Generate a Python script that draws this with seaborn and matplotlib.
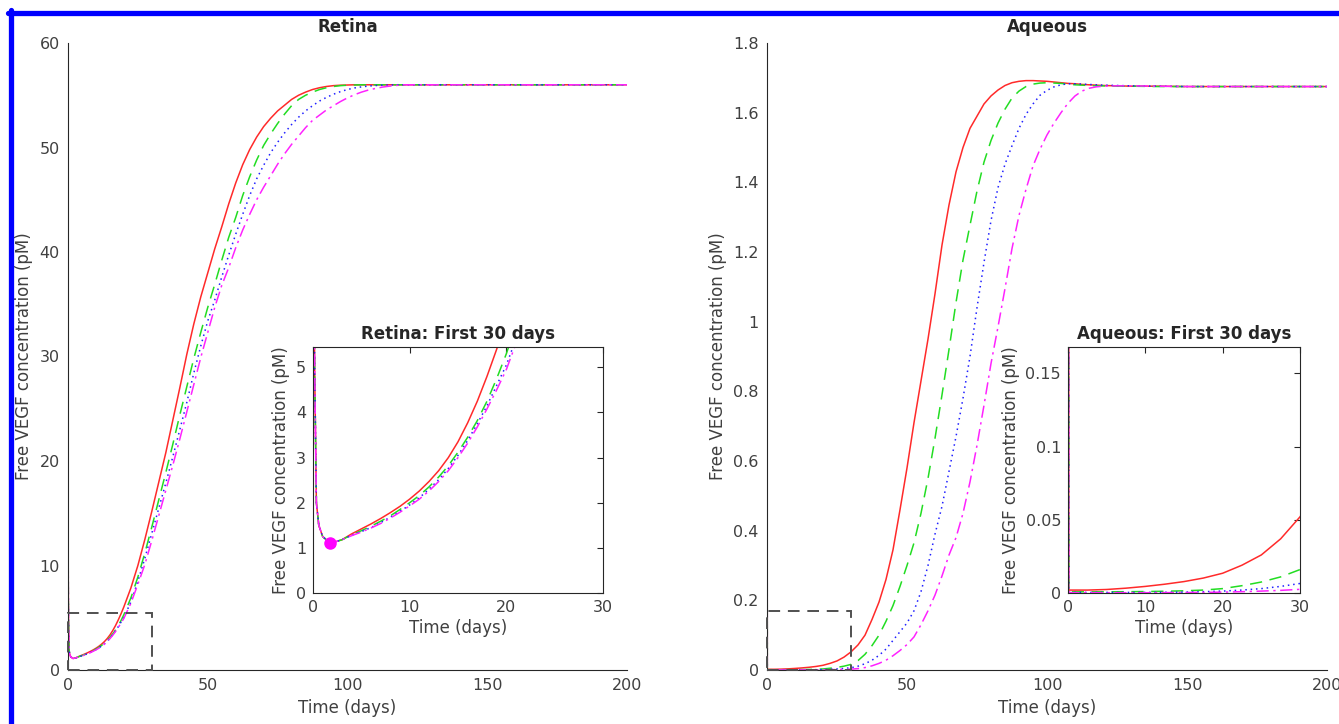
import numpy as np
import matplotlib
matplotlib.use("Agg")
import matplotlib.pyplot as plt
import seaborn as sns
from matplotlib.ticker import FuncFormatter
from matplotlib.patches import Rectangle
from matplotlib.lines import Line2D

# ---------------- data ----------------
# Retina: shared initial spike (all four curves overlap there)
spike_t = [0, 0.05, 0.1, 0.17, 0.35, 0.6, 1.0, 1.8, 3]
spike_v = [56, 14, 8, 5.0, 2.0, 1.5, 1.25, 1.1, 1.18]

ret_t = [4, 5, 6, 7, 8, 9, 10, 11, 12, 13, 14, 15, 16, 17, 18, 19, 20,
         22.5, 25, 27.5, 30, 32.5, 35, 37.5, 40, 42.5,
         45, 47.5, 50, 52.5, 55, 57.5, 60, 62.5, 65, 67.5,
         70, 72.5, 75, 77.5, 80, 82.5, 85, 87.5, 90, 92.5,
         95, 97.5, 100, 102.5, 105, 107.5, 110, 112.5, 115, 117.5, 120,
         130, 150, 200]
ret_red = [1.31, 1.42, 1.53, 1.65, 1.78, 1.92, 2.08, 2.26, 2.47, 2.71, 3.0, 3.35,
           3.77, 4.25, 4.8, 5.4, 6.05,
           7.85, 10.0, 12.5, 15.2, 18.0, 20.8, 23.9, 27.0, 30.2,
           33.1, 35.7, 38.0, 40.3, 42.4, 44.6, 46.6, 48.35, 49.8, 51.0,
           52.0, 52.8, 53.5, 54.05, 54.6, 55.0, 55.3, 55.55, 55.72, 55.84,
           55.92, 55.96, 55.98, 56.0, 56.0, 56.0, 56.0, 56.0, 56.0, 56.0, 56.0,
           56.0, 56.0, 56.0]
ret_green = [1.29, 1.38, 1.48, 1.59, 1.71, 1.85, 2.0, 2.16, 2.35, 2.57, 2.82, 3.12,
             3.45, 3.82, 4.25, 4.75, 5.3,
             6.9, 8.9, 11.2, 13.7, 16.3, 18.9, 21.6, 24.4, 27.1,
             29.8, 32.3, 34.7, 36.9, 39.2, 41.4, 43.3, 45.4, 47.2, 48.8,
             50.2, 51.3, 52.3, 53.2, 54.0, 54.6, 55.0, 55.3, 55.55, 55.72,
             55.84, 55.92, 55.96, 55.98, 56.0, 56.0, 56.0, 56.0, 56.0, 56.0, 56.0,
             56.0, 56.0, 56.0]
ret_blue = [1.28, 1.36, 1.45, 1.56, 1.68, 1.81, 1.95, 2.11, 2.3, 2.51, 2.76, 3.05,
            3.38, 3.75, 4.15, 4.6, 5.05,
            6.5, 8.5, 10.7, 13.1, 15.5, 17.9, 20.4, 23.0, 25.6,
            28.4, 31.0, 33.4, 35.4, 37.6, 39.7, 41.7, 43.6, 45.4, 47.0,
            48.3, 49.5, 50.5, 51.4, 52.2, 52.9, 53.5, 54.0, 54.45, 54.8,
            55.1, 55.35, 55.55, 55.7, 55.8, 55.88, 55.93, 55.96, 55.98, 56.0, 56.0,
            56.0, 56.0, 56.0]
ret_magenta = [1.27, 1.35, 1.44, 1.54, 1.66, 1.79, 1.93, 2.08, 2.26, 2.47, 2.71, 3.0,
               3.32, 3.68, 4.08, 4.5, 4.95,
               6.4, 8.2, 10.1, 12.4, 14.8, 17.2, 19.6, 22.1, 24.7,
               27.3, 29.9, 32.3, 34.7, 36.8, 38.5, 40.4, 42.1, 43.6, 45.0,
               46.2, 47.3, 48.4, 49.4, 50.3, 51.1, 51.9, 52.6, 53.1, 53.6,
               54.0, 54.4, 54.75, 55.05, 55.3, 55.5, 55.65, 55.78, 55.87, 55.94, 56.0,
               56.0, 56.0, 56.0]

# Aqueous
aq_t = [0, 0.1, 2.5, 5, 7.5, 10, 12.5, 15, 17.5, 20, 22.5,
        25, 27.5, 30, 32.5, 35, 37.5, 40, 42.5, 45, 47.5,
        50, 52.5, 55, 57.5, 60, 62.5, 65, 67.5, 70,
        72.5, 75, 77.5, 80, 82.5, 85, 87.5, 90, 92.5,
        95, 97.5, 100, 102.5, 105, 107.5, 110, 112.5, 115,
        117.5, 120,
        125, 130, 140, 150, 175, 200]
aq_red = [1.675, 0.002, 0.002, 0.0024, 0.0033, 0.0045, 0.006, 0.0078, 0.0102, 0.0135, 0.019,
          0.026, 0.037, 0.052, 0.072, 0.1, 0.145, 0.195, 0.26, 0.345, 0.46,
          0.58, 0.71, 0.83, 0.95, 1.08, 1.22, 1.335, 1.43, 1.5,
          1.555, 1.59, 1.625, 1.648, 1.665, 1.678, 1.686, 1.69, 1.692,
          1.692, 1.691, 1.69, 1.688, 1.686, 1.684, 1.683, 1.681, 1.68,
          1.679, 1.678,
          1.677, 1.676, 1.676, 1.675, 1.675, 1.675]
aq_green = [1.675, 0.0008, 0.0008, 0.0008, 0.0009, 0.001, 0.0012, 0.0015, 0.002, 0.003, 0.005,
            0.0075, 0.011, 0.016, 0.027, 0.045, 0.07, 0.1, 0.14, 0.185, 0.24,
            0.3, 0.365, 0.45, 0.55, 0.665, 0.79, 0.92, 1.055, 1.177,
            1.277, 1.375, 1.458, 1.52, 1.57, 1.61, 1.642, 1.662, 1.675,
            1.682, 1.685, 1.686, 1.685, 1.684, 1.682, 1.68, 1.679, 1.678,
            1.677, 1.677,
            1.676, 1.676, 1.675, 1.675, 1.675, 1.675]
aq_blue = [1.675, 0.0004, 0.0004, 0.0004, 0.0004, 0.0004, 0.0005, 0.0006, 0.0009, 0.0013, 0.002,
           0.003, 0.0045, 0.0065, 0.011, 0.018, 0.028, 0.042, 0.06, 0.085, 0.11,
           0.135, 0.17, 0.225, 0.3, 0.39, 0.47, 0.57, 0.67, 0.78,
           0.9, 1.04, 1.17, 1.29, 1.385, 1.452, 1.505, 1.555, 1.595,
           1.625, 1.65, 1.664, 1.674, 1.68, 1.683, 1.683, 1.682, 1.681,
           1.68, 1.679,
           1.678, 1.677, 1.676, 1.675, 1.675, 1.675]
aq_magenta = [1.675, 0.0002, 0.0002, 0.0002, 0.0002, 0.0002, 0.00025, 0.0003, 0.0004, 0.0006, 0.0009,
              0.0013, 0.0018, 0.0025, 0.004, 0.007, 0.012, 0.019, 0.028, 0.041, 0.056,
              0.073, 0.095, 0.13, 0.17, 0.215, 0.27, 0.33, 0.38, 0.45,
              0.54, 0.645, 0.76, 0.88, 0.985, 1.095, 1.21, 1.305, 1.38,
              1.447, 1.495, 1.536, 1.57, 1.6, 1.627, 1.648, 1.662, 1.67,
              1.674, 1.676,
              1.677, 1.677, 1.676, 1.675, 1.675, 1.675]

min_point_t = [1.8]
min_point_v = [1.1]

zoom_days = 30
retina_zoom_top = 5.45
aqueous_zoom_top = 0.168

series_styles = [("red", "#ff2a2a", "-"),
                 ("green", "#22dd22", (0, (8, 5))),
                 ("blue", "#2020ff", (0, (1, 2.5))),
                 ("magenta", "#ff22ff", (0, (8, 3, 1.5, 3)))]

ret_series = {"red": ret_red, "green": ret_green, "blue": ret_blue, "magenta": ret_magenta}
aq_series = {"red": aq_red, "green": aq_green, "blue": aq_blue, "magenta": aq_magenta}

# ---------------- styling ----------------
sns.set_style("white")
plt.rcParams["font.family"] = ["DejaVu Sans"]
TICK_C = "#404040"
fig = plt.figure(figsize=(13.39, 7.24), dpi=100)

W, H = 1339, 724
def rect(x0, x1, y0, y1):
    return [x0 / W, 1 - y1 / H, (x1 - x0) / W, (y1 - y0) / H]

ax_r = fig.add_axes(rect(68, 627, 43, 670))
ax_a = fig.add_axes(rect(767, 1327, 43, 670))
ax_ri = fig.add_axes(rect(313, 603, 347, 593))
ax_ai = fig.add_axes(rect(1068, 1300, 347, 593))

fmt = FuncFormatter(lambda v, p: "%g" % round(v, 6))

def draw(ax, series, kind):
    for name, col, ls in series_styles:
        if kind == "retina":
            t = spike_t + ret_t
            v = spike_v + series[name]
        else:
            t = aq_t
            v = series[name]
        sns.lineplot(x=t, y=v, ax=ax, color=col, linestyle=ls, linewidth=1.1,
                     legend=False, sort=False, estimator=None)

def style_main(ax, ylim, yticks, title):
    ax.set_xlim(0, 200)
    ax.set_ylim(*ylim)
    ax.set_xticks([0, 50, 100, 150, 200])
    ax.set_yticks(yticks)
    ax.yaxis.set_major_formatter(fmt)
    for s in ["top", "right"]:
        ax.spines[s].set_visible(False)
    for s in ["left", "bottom"]:
        ax.spines[s].set_color("#262626")
        ax.spines[s].set_linewidth(0.8)
    ax.tick_params(direction="in", length=5, width=0.8, colors="#262626",
                   labelcolor=TICK_C, labelsize=11.5, pad=6)
    ax.set_xlabel("Time (days)", fontsize=12, color=TICK_C, labelpad=4)
    ax.set_ylabel("Free VEGF concentration (pM)", fontsize=12, color=TICK_C)
    ax.set_title(title, fontsize=12, fontweight="bold", pad=8)
    ax.patch.set_alpha(0)

def style_inset(ax, ylim, yticks, title):
    ax.set_xlim(0, 30)
    ax.set_ylim(*ylim)
    ax.set_xticks([0, 10, 20, 30])
    ax.set_yticks(yticks)
    ax.yaxis.set_major_formatter(fmt)
    for s in ax.spines.values():
        s.set_visible(True)
        s.set_color("#262626")
        s.set_linewidth(0.8)
    ax.tick_params(direction="in", length=4, width=0.8, colors="#262626",
                   labelcolor=TICK_C, labelsize=11.5, top=True, right=True, pad=5)
    ax.set_xlabel("Time (days)", fontsize=12, color=TICK_C, labelpad=3)
    ax.set_ylabel("Free VEGF concentration (pM)", fontsize=12, color=TICK_C, labelpad=4)
    ax.set_title(title, fontsize=12, fontweight="bold", pad=6)

draw(ax_r, ret_series, "retina")
draw(ax_ri, ret_series, "retina")
draw(ax_a, aq_series, "aqueous")
draw(ax_ai, aq_series, "aqueous")

ax_ri.plot(min_point_t, min_point_v, "o", color="#ff00ff", markersize=8, zorder=5)

for ax, top in [(ax_r, retina_zoom_top), (ax_a, aqueous_zoom_top)]:
    ax.add_patch(Rectangle((0, 0), zoom_days, top, fill=False,
                           edgecolor="#505050", linestyle=(0, (6, 4)), linewidth=1.4,
                           zorder=4, clip_on=False))

style_main(ax_r, (0, 60), [0, 10, 20, 30, 40, 50, 60], "Retina")
style_main(ax_a, (0, 1.8), [0, 0.2, 0.4, 0.6, 0.8, 1, 1.2, 1.4, 1.6, 1.8], "Aqueous")
style_inset(ax_ri, (0, retina_zoom_top), [0, 1, 2, 3, 4, 5], "Retina: First 30 days")
style_inset(ax_ai, (0, aqueous_zoom_top), [0, 0.05, 0.1, 0.15], "Aqueous: First 30 days")

ax_r.yaxis.set_label_coords(-0.062, 0.5)
ax_a.yaxis.set_label_coords(-0.072, 0.5)

# blue frame (top and left edges visible in reference)
fig.add_artist(Line2D([8 / W, 1.0], [1 - 12.5 / H, 1 - 12.5 / H], color="#0000ff",
                      linewidth=3.8, transform=fig.transFigure))
fig.add_artist(Line2D([10.5 / W, 10.5 / W], [1 - 10 / H, 0.0], color="#0000ff",
                      linewidth=3.8, transform=fig.transFigure))

fig.savefig("out.png", dpi=100)
